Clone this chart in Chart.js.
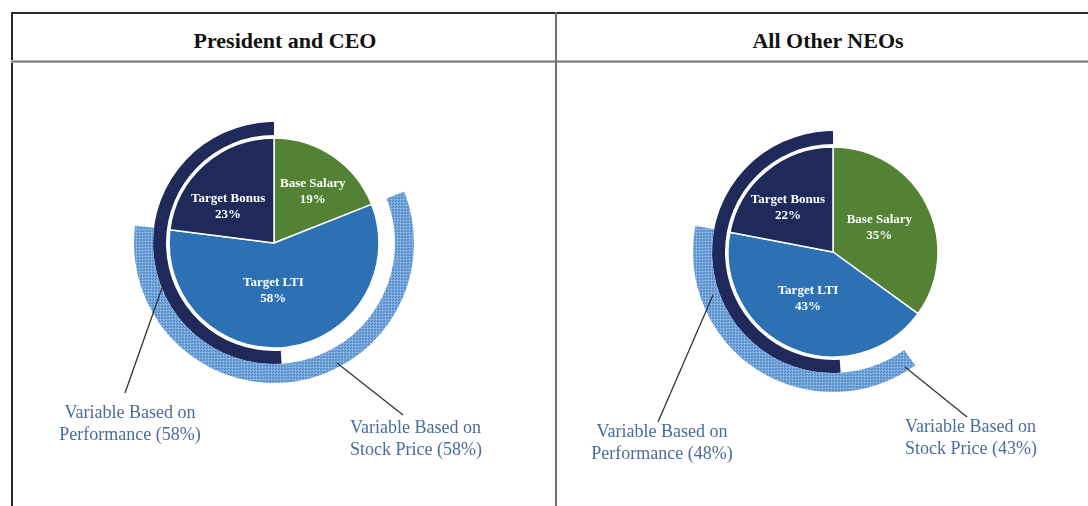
<!DOCTYPE html>
<html>
<head>
<meta charset="utf-8">
<script src="https://cdn.jsdelivr.net/npm/chart.js@4.4.1/dist/chart.umd.min.js"></script>
<style>
  body { margin: 0; width: 1088px; height: 506px; background: #fff; overflow: hidden; position: relative; font-family: "Liberation Serif", "DejaVu Serif", serif; }
  .line { position: absolute; }
  .title { position: absolute; top: 26px; height: 30px; line-height: 30px; text-align: center; font-weight: bold; font-size: 22px; color: #111; }
  canvas { position: absolute; }
</style>
</head>
<body>
<div class="line" style="left:11px;top:12px;width:1077px;height:2px;background:#2a2a2a"></div>
<div class="line" style="left:11px;top:12px;width:2px;height:494px;background:#2a2a2a"></div>
<div class="line" style="left:11px;top:60px;width:1077px;height:1px;background:#b8b8b8"></div>
<div class="line" style="left:11px;top:61px;width:1077px;height:1px;background:#777"></div>
<div class="line" style="left:11px;top:62px;width:1077px;height:1px;background:#a8a8a8"></div>
<div class="line" style="left:555px;top:12px;width:2px;height:494px;background:#707070"></div>
<div class="title" style="left:13px;width:544px">President and CEO</div>
<div class="title" style="left:557px;width:542px">All Other NEOs</div>

<canvas id="ceoChart" width="544" height="444" style="left:12px;top:62px"></canvas>
<canvas id="neoChart" width="531" height="444" style="left:557px;top:62px"></canvas>

<script>
// pay mix categories and values (% of target pay)
var slices = ['Base Salary', 'Target LTI', 'Target Bonus'];
var ceoMix = [19, 58, 23];
var neoMix = [35, 43, 22];

// outer rings, as % of the circle, clockwise from 12 o'clock: [gap, arc, gap]
var ceoStockRing = [19, 58, 23];
var neoStockRing = [40, 38, 22];
// performance ring: [gap, arc]
var ceoPerfRing = [49, 51];
var neoPerfRing = [49, 51];

// callout percentages
var ceoPerfPct = 58, ceoStockPct = 58;
var neoPerfPct = 48, neoStockPct = 43;

var green = '#548235';
var blue = '#2c71b4';
var navy = '#1f2a5b';
var clear = 'rgba(0,0,0,0)';

// dotted light blue fill for the stock price ring
function makePattern() {
  var c = document.createElement('canvas');
  c.width = 3; c.height = 3;
  var g = c.getContext('2d');
  g.fillStyle = '#74a5db';
  g.fillRect(0, 0, 3, 3);
  g.fillStyle = '#4a82c3';
  g.fillRect(0, 0, 1, 1);
  g.fillRect(2, 1, 1, 1);
  g.fillStyle = '#a3c6ea';
  g.fillRect(1, 2, 1, 1);
  return g.createPattern(c, 'repeat');
}
var dots = makePattern();

// white labels inside the pie, plus the two callouts below
var labelPlugin = {
  id: 'labels',
  afterDatasetsDraw: function(chart, args, opts) {
    var ctx = chart.ctx;
    var meta = chart.getDatasetMeta(3);
    var values = chart.data.datasets[3].data;
    ctx.save();
    ctx.fillStyle = '#fff';
    ctx.textAlign = 'center';
    ctx.textBaseline = 'middle';
    ctx.font = 'bold 13px "Liberation Serif"';
    meta.data.forEach(function(arc, i) {
      var p = arc.getProps(['x', 'y', 'startAngle', 'endAngle', 'outerRadius'], true);
      var mid = (p.startAngle + p.endAngle) / 2 + opts.nudge[i] * Math.PI / 180;
      var r = p.outerRadius * opts.frac[i];
      var x = p.x + Math.cos(mid) * r;
      var y = p.y + Math.sin(mid) * r;
      ctx.fillText(chart.data.labels[i], x, y - 8);
      ctx.fillText(values[i] + '%', x, y + 8);
    });

    var cx = meta.data[0].x, cy = meta.data[0].y;
    ctx.strokeStyle = '#333';
    ctx.lineWidth = 1.3;
    ctx.fillStyle = '#4a6b9e';
    ctx.font = '18px "Liberation Serif"';
    opts.callouts.forEach(function(c) {
      ctx.beginPath();
      ctx.moveTo(cx + c.from[0], cy + c.from[1]);
      ctx.lineTo(cx + c.to[0], cy + c.to[1]);
      ctx.stroke();
      ctx.textAlign = c.align;
      ctx.fillText(c.lines[0], cx + c.text[0], cy + c.text[1]);
      ctx.fillText(c.lines[1], cx + c.text[0], cy + c.text[1] + 22);
    });
    ctx.restore();
  }
};

function drawPanel(id, mix, stockRing, perfRing, padding, labelOpts) {
  var ctx = document.getElementById(id).getContext('2d');
  return new Chart(ctx, {
    type: 'doughnut',
    data: {
      labels: slices,
      datasets: [
        { data: stockRing, backgroundColor: [clear, dots, clear], borderWidth: 0, weight: 19 },
        { data: perfRing, backgroundColor: [clear, navy], borderWidth: 0, weight: 13 },
        { data: [1], backgroundColor: [clear], borderWidth: 0, weight: 3 },
        { data: mix, backgroundColor: [green, blue, navy], borderColor: '#fff', borderWidth: 1.5, weight: 105 }
      ]
    },
    options: {
      responsive: false,
      animation: false,
      events: [],
      cutout: 0,
      layout: { padding: padding },
      elements: { arc: { hoverOffset: 0, offset: 0, hoverBorderWidth: 0 } },
      plugins: {
        legend: { display: false },
        tooltip: { enabled: false },
        labels: labelOpts
      }
    },
    plugins: [labelPlugin]
  });
}

drawPanel('ceoChart', ceoMix, ceoStockRing, ceoPerfRing,
  { left: 122, right: 142, top: 41, bottom: 123 },
  {
    nudge: [3, 8, -10],
    frac: [0.61, 0.45, 0.56],
    callouts: [
      { from: [-112, 45], to: [-149, 150], text: [-144, 170], align: 'center',
        lines: ['Variable Based on', 'Performance (' + ceoPerfPct + '%)'] },
      { from: [63, 120], to: [129, 172], text: [76, 185], align: 'left',
        lines: ['Variable Based on', 'Stock Price (' + ceoStockPct + '%)'] }
    ]
  });

drawPanel('neoChart', neoMix, neoStockRing, neoPerfRing,
  { left: 136, right: 115, top: 50, bottom: 114 },
  {
    nudge: [-1, 5, -6],
    frac: [0.5, 0.5, 0.6],
    callouts: [
      { from: [-120, 43], to: [-175, 170], text: [-171, 180], align: 'center',
        lines: ['Variable Based on', 'Performance (' + neoPerfPct + '%)'] },
      { from: [72, 115], to: [134, 165], text: [72, 175], align: 'left',
        lines: ['Variable Based on', 'Stock Price (' + neoStockPct + '%)'] }
    ]
  });
</script>
</body>
</html>
